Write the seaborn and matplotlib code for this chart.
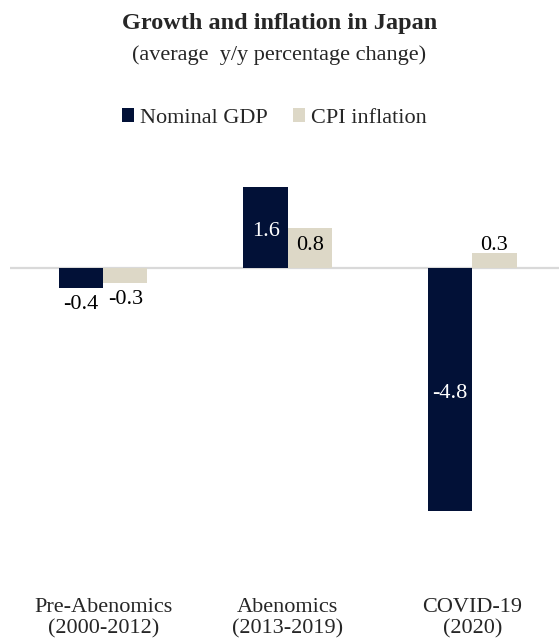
import matplotlib
matplotlib.use("Agg")
import matplotlib.pyplot as plt
import seaborn as sns
import pandas as pd
from matplotlib.patches import Patch

categories = ["Pre-Abenomics\n(2000-2012)", "Abenomics\n(2013-2019)", "COVID-19\n(2020)"]
series = ["Nominal GDP", "CPI inflation"]
gdp = [-0.4, 1.6, -4.8]
cpi = [-0.3, 0.8, 0.3]
colors = ["#021137", "#DDD8C7"]

df = pd.DataFrame({
    "cat": categories * 2,
    "series": [series[0]] * 3 + [series[1]] * 3,
    "value": gdp + cpi,
})

sns.set_theme(style="white")
plt.rcParams["font.family"] = ["Liberation Serif", "DejaVu Serif"]

fig = plt.figure(figsize=(5.59, 6.4), dpi=100)
ax = fig.add_axes([10 / 559, 1 - 585 / 640, 549 / 559, (585 - 170) / 640])

sns.barplot(data=df, x="cat", y="value", hue="series", palette=colors,
            width=0.48, ax=ax, legend=False, saturation=1, edgecolor="none")

ax.set_xlim(-0.505, 2.47)
ax.set_ylim(-6.26, 1.94)
ax.axhline(0, color="#D9D9D9", lw=1.6, zorder=0.5)
for s in ax.spines.values():
    s.set_visible(False)
ax.set_yticks([])
ax.set_xlabel("")
ax.set_ylabel("")
ax.tick_params(axis="x", length=0, labelsize=16, pad=9)
for t in ax.get_xticklabels():
    t.set_linespacing(1.2)

fs = 16
for p in ax.patches:
    val = p.get_height()
    if abs(val) < 1e-9:
        continue
    x = p.get_x() + p.get_width() / 2
    is_gdp = p.get_facecolor()[0] < 0.5
    label = f"{val:.1f}"
    if abs(val) >= 0.6:
        dy = -0.08 if is_gdp else 0.05
        ax.text(x, val / 2 + dy, label, ha="center", va="center", fontsize=fs,
                color="white" if is_gdp else "black")
    elif val > 0:
        ax.text(x, val - 0.04, label, ha="center", va="bottom", fontsize=fs, color="black")
    else:
        ax.text(x, val - 0.13, label, ha="center", va="top", fontsize=fs, color="black")

fig.text(0.5, 1 - 23 / 640, "Growth and inflation in Japan", ha="center", va="center",
         fontsize=17.5, fontweight="bold")
fig.text(0.5, 1 - 55 / 640, "(average  y/y percentage change)", ha="center", va="center",
         fontsize=16)

handles = [Patch(facecolor=c, edgecolor="none") for c in colors]
fig.legend(handles, series, loc="center", bbox_to_anchor=(0.5 - 5 / 559, 1 - 118 / 640), ncol=2,
           frameon=False, fontsize=16, handlelength=0.55, handleheight=0.55,
           handletextpad=0.25, columnspacing=1.15)

fig.savefig("out.png", dpi=100)
